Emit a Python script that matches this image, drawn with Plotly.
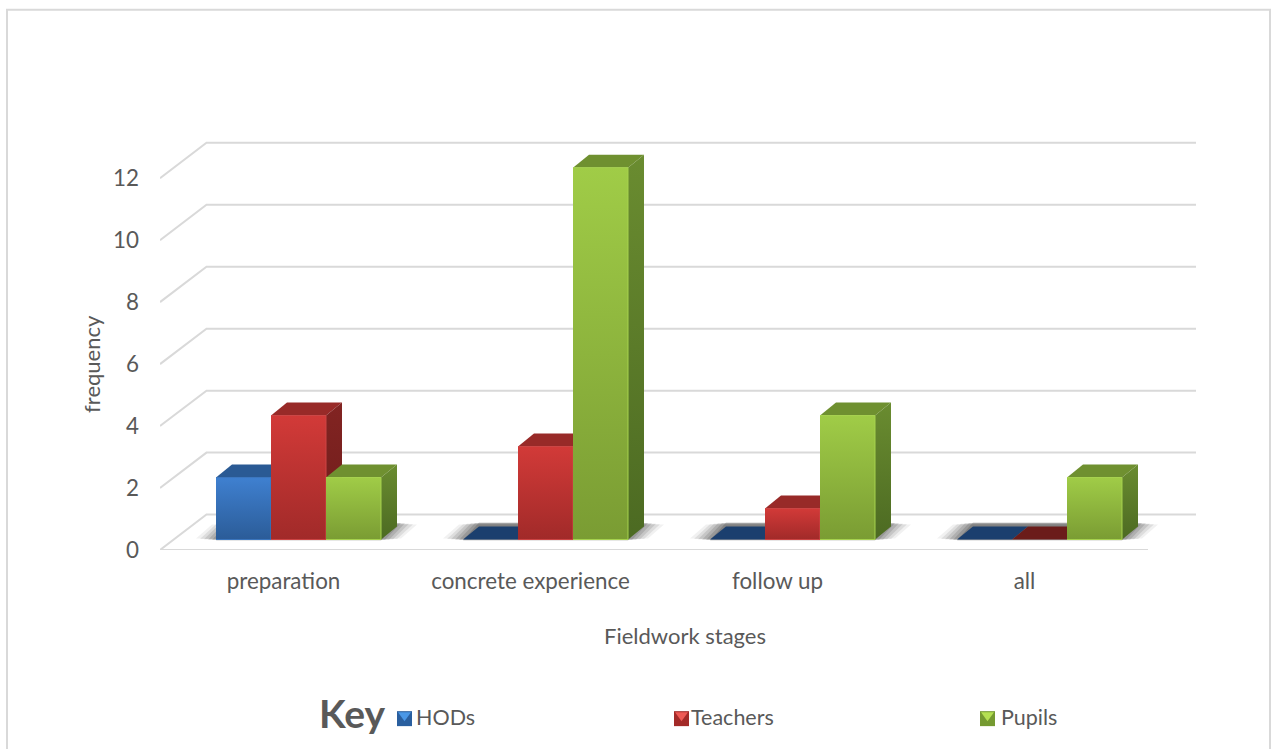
import plotly.graph_objects as go

categories = ["preparation", "concrete experience", "follow up", "all"]
series_names = ["HODs", "Teachers", "Pupils"]
hods = [2, 0, 0, 0]
teachers = [4, 3, 1, 0]
pupils = [2, 12, 4, 2]
y_ticks = [0, 2, 4, 6, 8, 10, 12]

# Page geometry
W, H = 1276, 749
PL, PR, PB = 160, 1196, 550.5
PXU = 31.05            # pixels per unit of value
PXC = 247              # pixels per category
TOP_VAL = 13.2
PT = PB - TOP_VAL * PXU
FONT = "Lato"
TXT = "#595959"
GRID = "#d9d9d9"
X_MAX = -0.5 + (PR - PL) / PXC

# Pseudo-3D projection (pixel offsets converted to axis units)
def dxc(px): return px / PXC
def dyv(px): return px / PXU
BAR_W = dxc(55)
GROUP_SHIFT = dxc(15)
BASE_LIFT = dyv(10.5)
DEPTH_X, DEPTH_Y = dxc(16), dyv(13)

STYLES = [
    dict(front=("#2b5c98", "#3f80d0"), side=("#1d3f6c", "#264f82"), top="#2a5a94", flat="#1b3f6e", edge="#3a75bd"),
    dict(front=("#a12a29", "#d23a38"), side=("#6e1c1b", "#822422"), top="#982a28", flat="#6b1c1a", edge="#cc4544"),
    dict(front=("#7a9c33", "#a0cc47"), side=("#4c6a22", "#6a8c30"), top="#6f9030", flat="#6f9030", edge="#a6d24e"),
]

fig = go.Figure()

def poly(xs, ys, color=None, grad=None, line=None):
    kw = dict(x=xs, y=ys, mode="lines", fill="toself", hoverinfo="skip",
              showlegend=False, cliponaxis=False,
              line=dict(width=1 if line else 0, color=line or "rgba(0,0,0,0)"))
    if grad:
        kw["fillgradient"] = dict(type="vertical",
                                  colorscale=[[0, grad[0]], [1, grad[1]]])
    else:
        kw["fillcolor"] = color
    fig.add_trace(go.Scatter(**kw))

# Wall and floor gridlines, one for each tick
for v in y_ticks:
    fig.add_trace(go.Scatter(
        x=[-0.5, -0.5 + dxc(46.5), X_MAX],
        y=[v, v + dyv(35.5), v + dyv(35.5)],
        mode="lines", line=dict(color=GRID, width=2), hoverinfo="skip",
        showlegend=False, cliponaxis=False))
# Front edge of the floor
fig.add_trace(go.Scatter(x=[-0.5, 3.5], y=[0, 0], mode="lines",
                         line=dict(color=GRID, width=2), hoverinfo="skip",
                         showlegend=False, cliponaxis=False))

# Soft floor shadows
for i in range(len(categories)):
    cx = i + GROUP_SHIFT
    left = cx - 1.5 * BAR_W
    right = cx + 1.5 * BAR_W
    for grow, alpha in [(20, 0.07), (16, 0.10), (12, 0.13), (8, 0.15), (4, 0.18), (0, 0.22)]:
        g = dxc(grow)
        lift = dyv(grow * 0.1)
        poly([left - g, right + g, right + DEPTH_X + g, left + DEPTH_X - g],
             [BASE_LIFT - dyv(1) + lift, BASE_LIFT - dyv(1) + lift,
              BASE_LIFT + DEPTH_Y + dyv(4) - lift, BASE_LIFT + DEPTH_Y + dyv(4) - lift],
             color=f"rgba(50,50,50,{alpha})")

# Bars
for s, vals in enumerate([hods, teachers, pupils]):
    st = STYLES[s]
    for i, v in enumerate(vals):
        x0 = i + GROUP_SHIFT - 1.5 * BAR_W + s * BAR_W
        x1 = x0 + BAR_W
        b = BASE_LIFT
        t = BASE_LIFT + v
        poly([x0, x1, x1 + DEPTH_X, x0 + DEPTH_X],
             [t, t, t + DEPTH_Y, t + DEPTH_Y],
             color=st["top"] if v > 0 else st["flat"])
        if v > 0:
            poly([x1, x1 + DEPTH_X, x1 + DEPTH_X, x1],
                 [b, b + DEPTH_Y, t + DEPTH_Y, t], grad=st["side"])
            poly([x0, x1, x1, x0], [b, b, t, t], grad=st["front"], line=st["edge"])

# Legend row and titles live on the paper, converted from page pixels
def pxx(px): return (px - PL) / (PR - PL)
def pxy(py): return (PB - py) / (PB - PT)

ICONS = [(397, "#2a5f9f", "#4a97e6", 414), (674, "#a32a28", "#ee5a55", 689), (980, "#759a31", "#b4e052", 999)]
shapes = [dict(type="rect", xref="paper", yref="paper",
               x0=pxx(7), x1=pxx(1270), y0=pxy(790), y1=pxy(9),
               line=dict(color=GRID, width=2), fillcolor="rgba(0,0,0,0)", layer="below")]
annotations = [
    dict(text="Fieldwork stages", x=pxx(685), y=pxy(636), xanchor="center", yanchor="middle",
         font=dict(family=FONT, size=22, color=TXT)),
    dict(text="frequency", x=pxx(92), y=pxy(364), xanchor="center", yanchor="middle", textangle=-90,
         font=dict(family=FONT, size=22, color=TXT)),
    dict(text="<b>Key</b>", x=pxx(317), y=pxy(714), xanchor="left", yanchor="middle",
         font=dict(family=FONT, size=39, color=TXT)),
]
for name, (ix, dark, light, tx) in zip(series_names, ICONS):
    shapes.append(dict(type="rect", xref="paper", yref="paper",
                       x0=pxx(ix), x1=pxx(ix + 15), y0=pxy(727), y1=pxy(712),
                       line=dict(width=0), fillcolor=dark))
    shapes.append(dict(type="path", xref="paper", yref="paper",
                       path=f"M {pxx(ix+1)} {pxy(713)} L {pxx(ix+14)} {pxy(713)} L {pxx(ix+7.5)} {pxy(722)} Z",
                       line=dict(width=0), fillcolor=light))
    annotations.append(dict(text=name, x=pxx(tx), y=pxy(718), xanchor="left", yanchor="middle",
                            font=dict(family=FONT, size=21.5, color=TXT)))
for a in annotations:
    a.update(xref="paper", yref="paper", showarrow=False)

fig.update_layout(
    width=W, height=H, autosize=False,
    margin=dict(l=PL, r=W - PR, t=PT, b=H - PB, pad=0),
    paper_bgcolor="white", plot_bgcolor="rgba(0,0,0,0)",
    showlegend=False, shapes=shapes, annotations=annotations,
    font=dict(family=FONT, color=TXT),
    xaxis=dict(range=[-0.5, X_MAX], tickmode="array", tickvals=list(range(len(categories))),
               ticktext=categories, showgrid=False, zeroline=False,
               showline=False, ticks="",
               ticklabelstandoff=16, tickfont=dict(family=FONT, size=22.4, color=TXT)),
    yaxis=dict(range=[0, TOP_VAL], tickmode="array", tickvals=y_ticks,
               showgrid=False, zeroline=False, showline=False, ticks="",
               ticklabelstandoff=20, tickfont=dict(family=FONT, size=22.4, color=TXT)),
)

fig.write_html("out.html", config=dict(displayModeBar=False),
               post_script="document.body.style.margin='0';document.body.style.overflow='hidden';")
